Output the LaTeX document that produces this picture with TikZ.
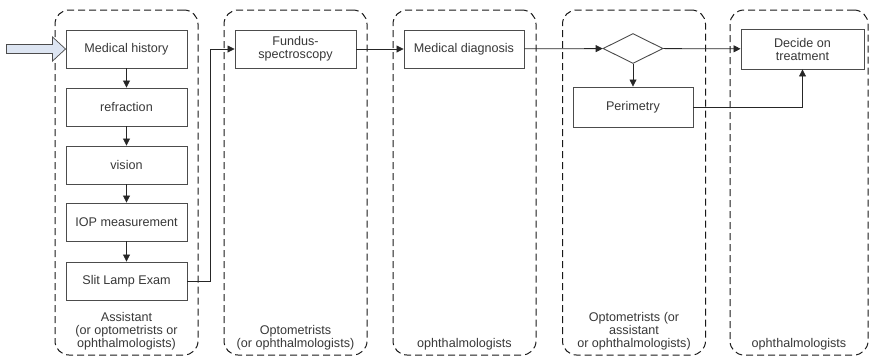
\documentclass[tikz,border=0pt]{standalone}
\usepackage{fontspec}
\setmainfont{Liberation Sans}
\usepackage{xcolor}
\colorlet{colText}{black!78}
\colorlet{colBox}{black!70}
\definecolor{colInput}{HTML}{DDE5F2}
\usepackage{tikz}
\usetikzlibrary{arrows.meta, positioning, calc, shapes.geometric}

\begin{document}
\begin{tikzpicture}[
		x=1pt, y=-1pt,
		lane/.style={draw=black!90, dashed, dash pattern=on 7pt off 4pt, line width=1pt, rounded corners=14pt, minimum width=143pt, minimum height=345pt},
		task/.style={draw=colBox, line width=0.9pt, fill=white, text=colText, align=center, minimum width=121pt, minimum height=38pt, inner sep=1pt, font=\fontsize{12.6}{13}\selectfont},
		who/.style={text=colText, align=center, font=\fontsize{12.6}{13}\selectfont, inner sep=0pt, anchor=south},
		flow/.style={->, line width=0.8pt, black!85},
		>={Triangle[length=7pt, width=7pt]}
	]
		\useasboundingbox (0,0) rectangle (870,360);

		% ===== Swim lanes =====
		\node[lane] (lA) at (126.5, 182.5) {};
		\node[lane] (lB) at (295.5, 182.5) {};
		\node[lane] (lC) at (464.5, 182.5) {};
		\node[lane] (lD) at (634, 182.5) {};
		\node[lane, minimum width=138pt] (lE) at (799, 182.5) {};

		% Who does it
		\node[who] (wA) at ([yshift=5pt]lA.south) {Assistant\\(or optometrists or\\ophthalmologists)};
		\node[who] (wB) at ([yshift=5pt]lB.south) {Optometrists\\(or ophthalmologists)};
		\node[who] (wC) at ([yshift=5pt]lC.south) {ophthalmologists};
		\node[who] (wD) at ([yshift=5pt]lD.south) {Optometrists (or\\assistant\\or ophthalmologists)};
		\node[who] (wE) at ([yshift=5pt]lE.south) {ophthalmologists};

		% ===== Examinations by the assistant =====
		\node[task] (hist) at (126.5, 49) {Medical history};
		\node[task] (refr) at (126.5, 107) {refraction};
		\node[task] (vis)  at (126.5, 165) {vision};
		\node[task] (iop)  at (126.5, 222) {IOP measurement};
		\node[task] (slit) at (126.5, 281) {Slit Lamp Exam};

		\draw[flow] (hist) -- (refr);
		\draw[flow] (refr) -- (vis);
		\draw[flow] (vis) -- (iop);
		\draw[flow] (iop) -- (slit);

		% Patient comes in
		\draw[line width=0.7pt, colBox, fill=colInput, shift={(hist.west)}]
			(0,0) -- (-13,-12) -- (-13,-4.5) -- (-59,-4.5) -- (-59,4.5) -- (-13,4.5) -- (-13,12) -- cycle;

		% ===== Top row =====
		\node[task] (fund) at (295.5, 49) {Fundus-\\spectroscopy};
		\node[task, minimum width=120pt] (diag) at (464, 49) {Medical diagnosis};
		\node[draw=colBox, line width=0.9pt, diamond, aspect=2, minimum width=60pt, minimum height=30pt, inner sep=0pt] (dec) at (633, 48.5) {};
		\node[task, minimum width=120pt, minimum height=40pt] (peri) at (633, 107) {Perimetry};
		\node[task, minimum width=123pt, minimum height=40pt] (treat) at (802.5, 49) {Decide on\\treatment};

		\draw[flow] (slit.east) -- ++(23,0) |- (fund.west);
		\draw[flow] (fund) -- (diag);
		\draw[flow] (diag) -- (dec);
		\draw[flow] (dec) -- (treat);
		\draw[flow] (dec) -- (peri);
		\draw[flow] (peri.east) -| (treat.south);
	\end{tikzpicture}
\end{document}
